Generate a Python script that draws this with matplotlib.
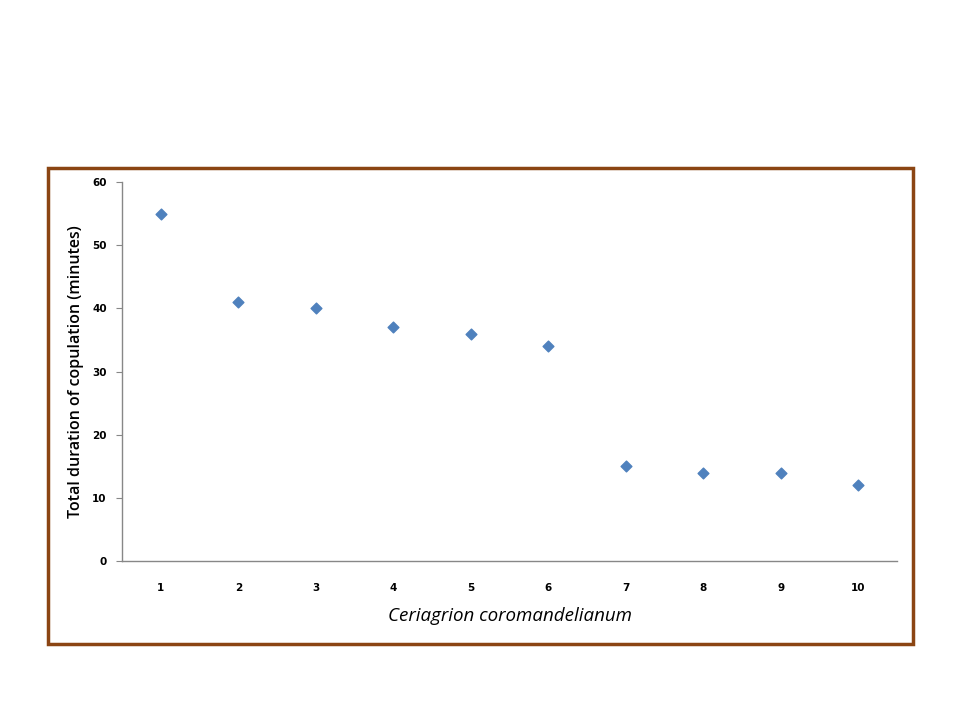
import matplotlib
matplotlib.use("Agg")
import matplotlib.pyplot as plt
from matplotlib.patches import Rectangle

# Data
pairs = [1, 2, 3, 4, 5, 6, 7, 8, 9, 10]
duration = [55, 41, 40, 37, 36, 34, 15, 14, 14, 12]
y_ticks = [0, 10, 20, 30, 40, 50, 60]

fig = plt.figure(figsize=(9.6, 7.2), dpi=100)
W, H = 960, 720

# brown frame around the chart
fig.patches.append(Rectangle((48 / W, 1 - 644 / H), (913 - 48) / W, (644 - 168) / H,
                             transform=fig.transFigure, fill=False,
                             edgecolor="#8B4513", linewidth=2.5))

ax = fig.add_axes([122 / W, 1 - 561 / H, (897 - 122) / W, (561 - 182) / H])
ax.scatter(pairs, duration, marker="D", s=30, color="#4F81BD", zorder=3)

ax.set_xlim(0.5, 10.5)
ax.set_ylim(0, 60)
ax.set_yticks(y_ticks)
ax.set_xticks(pairs)
ax.set_xticklabels([str(p) for p in pairs])

for s in ["top", "right"]:
    ax.spines[s].set_visible(False)
for s in ["left", "bottom"]:
    ax.spines[s].set_color("#878787")
    ax.spines[s].set_linewidth(1)

ax.tick_params(axis="y", length=4, color="#878787", labelsize=7.5, pad=7)
ax.tick_params(axis="x", length=0, labelsize=7.5, pad=16)
for lab in ax.get_xticklabels() + ax.get_yticklabels():
    lab.set_fontweight("bold")

ax.set_ylabel("Total duration of copulation (minutes)", fontsize=11.5,
              family="Open Sans", fontweight="semibold", labelpad=6)
ax.set_xlabel("Ceriagrion coromandelianum", fontsize=13.5, style="italic",
              family="Open Sans", fontweight="medium", labelpad=10)

fig.savefig("out.png", dpi=100)
